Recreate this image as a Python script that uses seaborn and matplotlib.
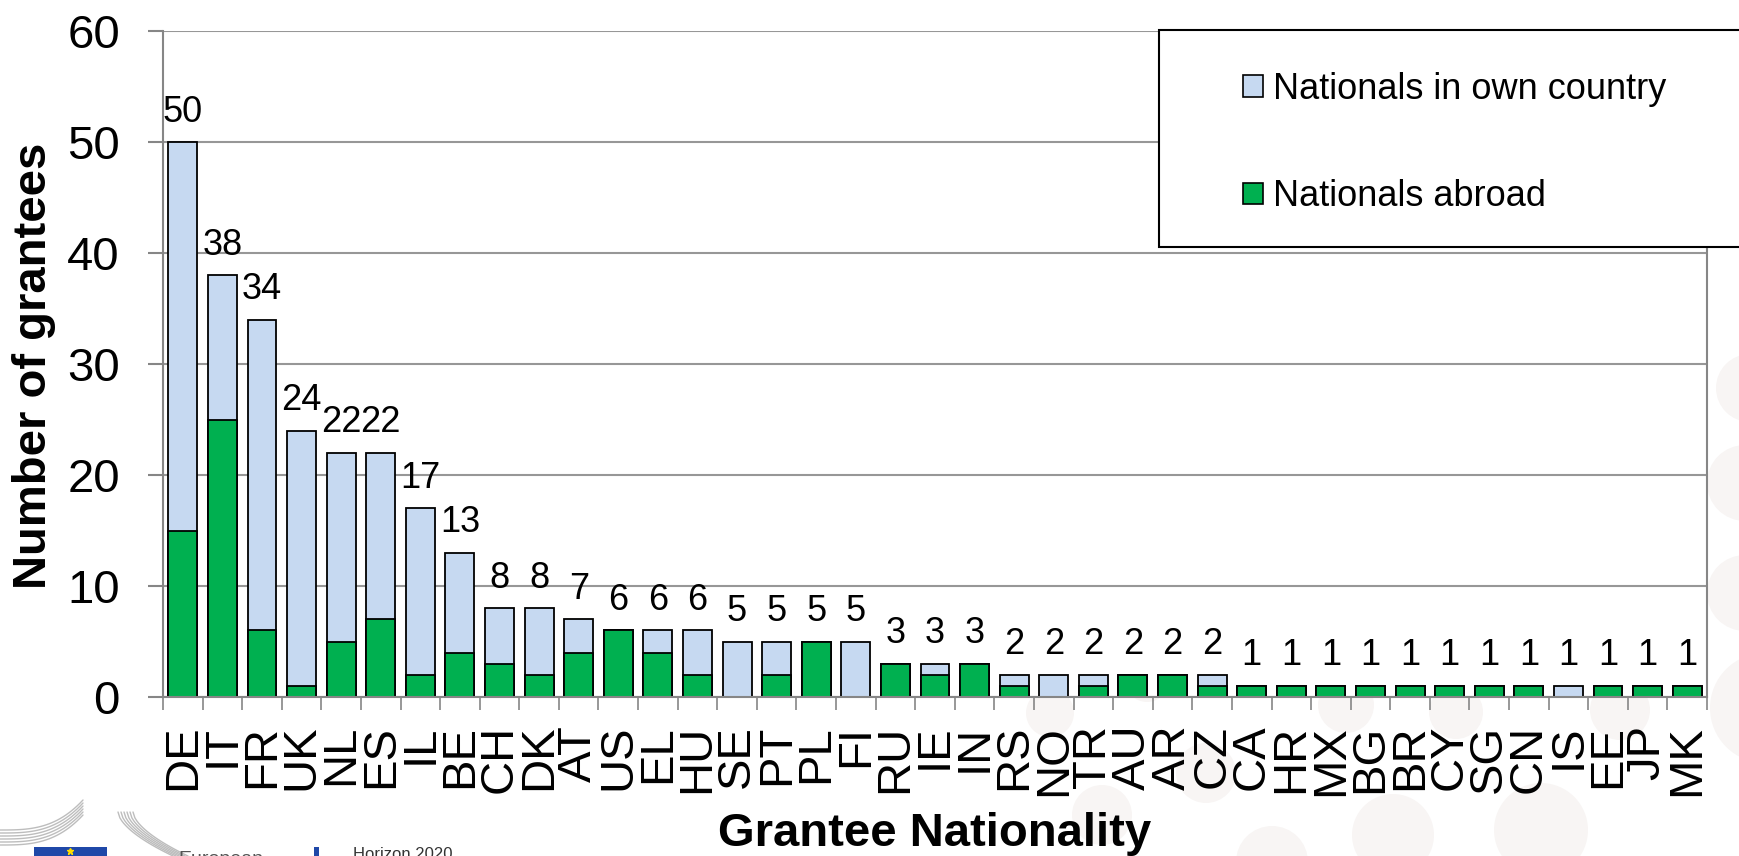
import seaborn as sns
import matplotlib.pyplot as plt
import pandas as pd
import numpy as np
from matplotlib.patches import Patch, Rectangle, Ellipse
from matplotlib.lines import Line2D

countries = ["DE", "IT", "FR", "UK", "NL", "ES", "IL", "BE", "CH", "DK", "AT", "US", "EL",
             "HU", "SE", "PT", "PL", "FI", "RU", "IE", "IN", "RS", "NO", "TR", "AU", "AR",
             "CZ", "CA", "HR", "MX", "BG", "BR", "CY", "SG", "CN", "IS", "EE", "JP", "MK"]
total = [50, 38, 34, 24, 22, 22, 17, 13, 8, 8, 7, 6, 6,
         6, 5, 5, 5, 5, 3, 3, 3, 2, 2, 2, 2, 2,
         2, 1, 1, 1, 1, 1, 1, 1, 1, 1, 1, 1, 1]
abroad = [15, 25, 6, 1, 5, 7, 2, 4, 3, 2, 4, 6, 4,
          2, 0, 2, 5, 0, 3, 2, 3, 1, 0, 1, 2, 2,
          1, 1, 1, 1, 1, 1, 1, 1, 1, 0, 1, 1, 1]
legend_labels = ["Nationals in own country", "Nationals abroad"]

LIGHT = "#C6D9F1"
GREEN = "#00B050"
GREY = "#868686"

sns.set_style("white")
plt.rcParams['font.family'] = ['Liberation Sans', 'DejaVu Sans']
plt.rcParams['text.color'] = 'black'
plt.rcParams['axes.labelcolor'] = 'black'

W, H = 1740, 856
fig = plt.figure(figsize=(W / 100, H / 100), dpi=100)

# pale dotted background of the slide
bg = [(1750, 388, 34), (1745, 483, 38), (1745, 593, 38), (1765, 708, 55),
      (1541, 830, 47), (1393, 835, 41), (1272, 862, 36), (1102, 815, 30),
      (1206, 773, 30), (1050, 713, 24), (1147, 680, 22), (1346, 705, 28),
      (1456, 712, 27), (1620, 710, 30)]
for cx, cy, r in bg:
    fig.add_artist(Ellipse((cx / W, 1 - cy / H), 2 * r / W, 2 * r / H,
                           transform=fig.transFigure, fc="#F8F5F4", ec="none", zorder=-5))

ax = fig.add_axes([163 / W, 1 - 697 / H, (1707 - 163) / W, 666 / H])
ax.set_facecolor("white")

df = pd.DataFrame({"country": countries, "total": total, "abroad": abroad})
sns.barplot(data=df, x="country", y="total", color=LIGHT, saturation=1, width=0.73,
            edgecolor="black", linewidth=1.3, errorbar=None, ax=ax)
sns.barplot(data=df, x="country", y="abroad", color=GREEN, saturation=1, width=0.73,
            edgecolor="black", linewidth=1.3, errorbar=None, ax=ax)

ax.bar_label(ax.containers[0], labels=[str(v) for v in total], padding=9, fontsize=26,
             color="black")

ax.set_ylim(0, 60)
ax.set_yticks(range(0, 61, 10))
ax.set_xlim(-0.5, len(countries) - 0.5)
ax.yaxis.grid(True, color="#979797", lw=1.5)
ax.set_axisbelow(True)

ax.spines['top'].set_visible(False)
for s in ["left", "right", "bottom"]:
    ax.spines[s].set_color(GREY)
    ax.spines[s].set_linewidth(1.5)

ax.tick_params(axis="y", length=11, width=1.5, color=GREY, labelsize=34, pad=20,
               left=True, labelcolor="black")
ax.set_xticks(np.arange(-0.5, len(countries), 1), minor=True)
ax.tick_params(axis="x", which="major", length=0, labelsize=34, pad=20, labelrotation=90,
               labelcolor="black")
ax.tick_params(axis="x", which="minor", length=9, width=1.2, color=GREY, bottom=True)

ax.set_ylabel("Number of grantees", fontsize=34, fontweight="bold")
ax.yaxis.set_label_coords(-0.069, 0.497)
ax.set_xlabel("Grantee Nationality", fontsize=34, fontweight="bold")
ax.xaxis.set_label_coords(0.5, -0.172)

# legend box, runs off the right edge like in the slide
fig.add_artist(Rectangle((1159 / W, 1 - 247 / H), (1780 - 1159) / W, (247 - 30) / H,
                         transform=fig.transFigure, fc="white", ec="black", lw=1.5, zorder=4))
handles = [Patch(fc=LIGHT, ec="black", lw=1.2, label=legend_labels[0]),
           Patch(fc=GREEN, ec="black", lw=1.2, label=legend_labels[1])]
leg = fig.legend(handles=handles, loc="upper left", bbox_to_anchor=(1243 / W, 1 - 72 / H),
                 frameon=False, fontsize=26, handlelength=0.55, handleheight=0.55,
                 handletextpad=0.28, labelspacing=2.0, borderpad=0, borderaxespad=0)
leg.set_zorder(6)

# bits of the EC / Horizon 2020 logo cut off at the bottom
fig.add_artist(Rectangle((34 / W, 0), 73 / W, 9 / H, transform=fig.transFigure,
                         fc="#1F48A8", ec="none"))
fig.add_artist(Line2D([70 / W], [1 - 851 / H], marker="*", color="#FFDD00", ms=5,
                      transform=fig.transFigure))
for i in range(6):
    t = np.linspace(0, 1, 30)
    xs = t * 83
    ys = 845 - i * 3 - 30 * t ** 3
    fig.add_artist(Line2D(xs / W, 1 - ys / H, color="#BDBDBD", lw=1, transform=fig.transFigure))
    xs2 = 118 + i * 3 + t * 55
    ys2 = 812 + 44 * t ** 0.6
    fig.add_artist(Line2D(xs2 / W, 1 - ys2 / H, color="#BDBDBD", lw=1, transform=fig.transFigure))
fig.add_artist(Rectangle((314 / W, 0), 5 / W, 9 / H, transform=fig.transFigure,
                         fc="#1F48A8", ec="none"))
fig.text(353 / W, 1 - 847 / H, "Horizon 2020", fontsize=12, color="#333333", va="top")
fig.text(178 / W, 1 - 851 / H, "European", fontsize=14, color="#555555", va="top")

fig.savefig("out.png", dpi=100)
